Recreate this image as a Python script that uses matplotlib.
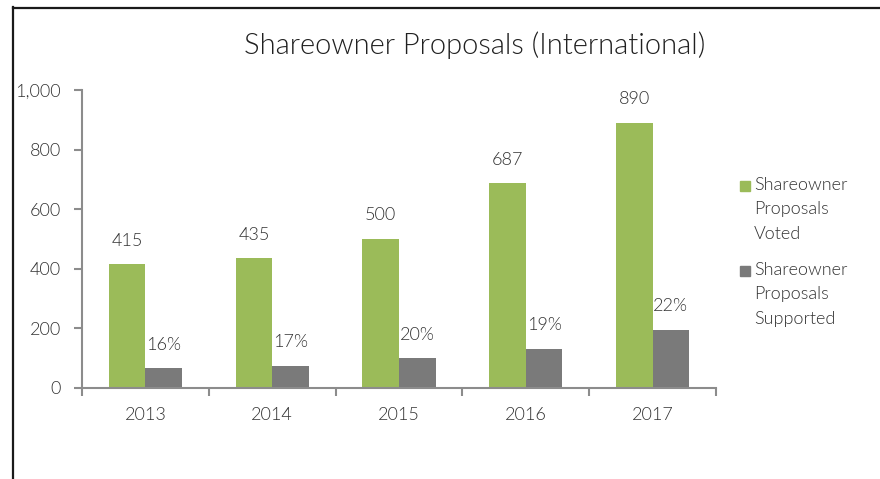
import matplotlib
matplotlib.use("Agg")
import matplotlib.pyplot as plt
import numpy as np
from matplotlib.lines import Line2D
from matplotlib.patches import Rectangle

years = ["2013", "2014", "2015", "2016", "2017"]
voted = [415, 435, 500, 687, 890]
supported = [66, 74, 100, 131, 196]
supported_pct = ["16%", "17%", "20%", "19%", "22%"]
legend_labels = ["Shareowner\nProposals\nVoted", "Shareowner\nProposals\nSupported"]

GREEN = "#9BBB59"
GREY = "#7A7A7A"
TXT = "#333333"
AXC = "#8C8C8C"

plt.rcParams["font.family"] = ["Lato", "DejaVu Sans"]
plt.rcParams["font.weight"] = 300

W, H = 880, 479
fig = plt.figure(figsize=(W / 100, H / 100), dpi=100)
ax = fig.add_axes([82 / W, 1 - 388 / H, (716 - 82) / W, (388 - 90) / H])

x = np.arange(len(years))
bw = 0.288
ax.bar(x - bw / 2, voted, bw, color=GREEN, zorder=2)
ax.bar(x + bw / 2, supported, bw, color=GREY, zorder=2)

for i in range(len(years)):
    ax.annotate(str(voted[i]), (x[i] - bw / 2, voted[i]), xytext=(0, 17),
                textcoords="offset points", ha="center", va="center",
                fontsize=13, color=TXT)
    ax.annotate(supported_pct[i], (x[i] + bw / 2, supported[i]), xytext=(0, 17),
                textcoords="offset points", ha="center", va="center",
                fontsize=13, color=TXT)

ax.set_xlim(-0.5, len(years) - 0.5)
ax.set_ylim(0, 1000)
ax.set_yticks(range(0, 1001, 200))
ax.set_yticklabels(["0", "200", "400", "600", "800", "1,000"])
ax.set_xticks(x)
ax.set_xticklabels(years)
ax.set_xticks(np.arange(-0.5, len(years), 1), minor=True)
ax.tick_params(axis="x", which="major", length=0, pad=14, labelsize=13, labelcolor=TXT)
ax.tick_params(axis="x", which="minor", length=6, width=1.5, color=AXC, direction="out")
ax.tick_params(axis="y", length=6, width=1.5, color=AXC, pad=9, labelsize=13, labelcolor=TXT)
for s in ["top", "right"]:
    ax.spines[s].set_visible(False)
for s in ["left", "bottom"]:
    ax.spines[s].set_color(AXC)
    ax.spines[s].set_linewidth(1.5)

fig.text(475 / W, 1 - 45 / H, "Shareowner Proposals (International)", ha="center",
         va="center", fontsize=21, color="#202020")

# legend
for j, (lab, col) in enumerate(zip(legend_labels, [GREEN, GREY])):
    ty = 177 + j * 85
    fig.add_artist(Rectangle((740 / W, 1 - (ty + 14) / H), 10 / W, 10 / H,
                             transform=fig.transFigure, color=col))
    fig.text(754 / W, 1 - ty / H, lab, ha="left", va="top", fontsize=13,
             color=TXT, linespacing=1.65)

# outer frame (partially visible)
fig.add_artist(Line2D([12.5 / W, 12.5 / W], [0, 1 - 7 / H], color="#1a1a1a", lw=1.6,
                      transform=fig.transFigure))
fig.add_artist(Line2D([12.5 / W, 1], [1 - 7.5 / H, 1 - 7.5 / H], color="#1a1a1a", lw=1.6,
                      transform=fig.transFigure))

fig.savefig("out.png", dpi=100)
